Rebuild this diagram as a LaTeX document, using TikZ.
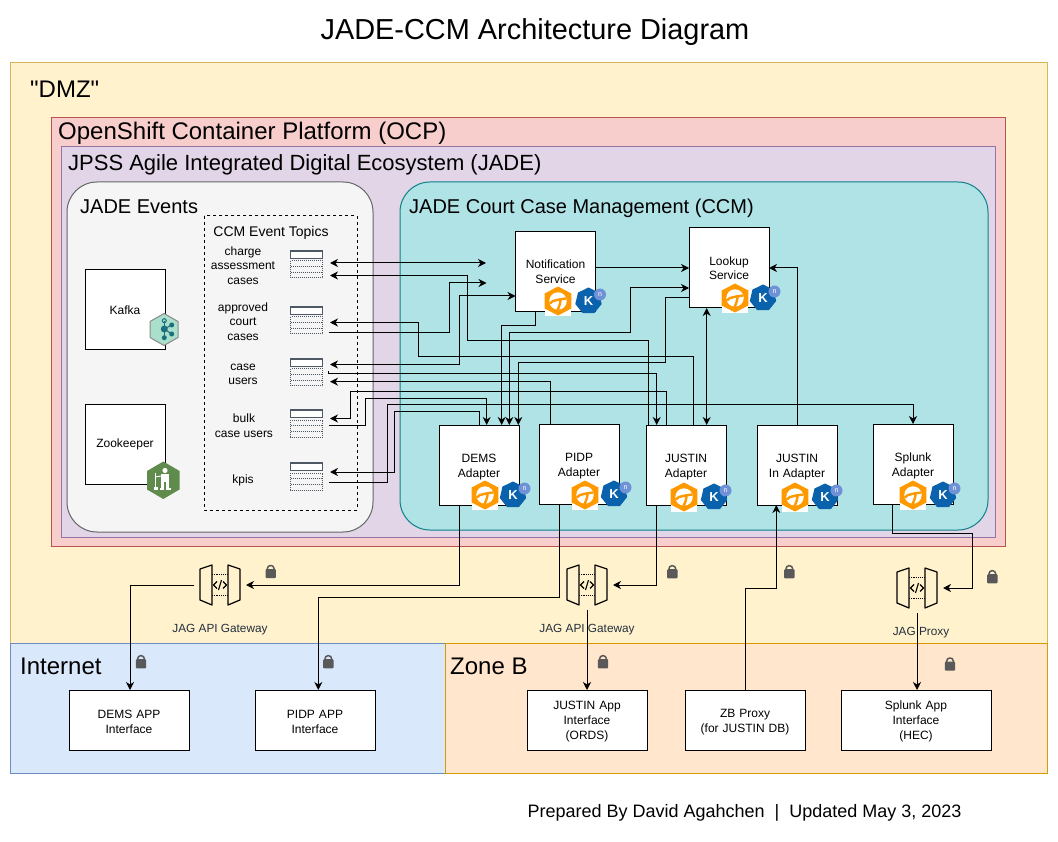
\documentclass[tikz,border=0pt]{standalone}
\usepackage{fontspec}
\setmainfont{Liberation Sans}
\newfontfamily\plainfont{Liberation Sans}
\usetikzlibrary{arrows.meta,shapes.geometric}
\definecolor{dmzfill}{HTML}{FFF2CC}
\definecolor{dmzline}{HTML}{D6B656}
\definecolor{netfill}{HTML}{DAE8FC}
\definecolor{netline}{HTML}{6C8EBF}
\definecolor{zonefill}{HTML}{FFE6CC}
\definecolor{zoneline}{HTML}{D79B00}
\definecolor{ocpfill}{HTML}{F8CECC}
\definecolor{ocpline}{HTML}{B85450}
\definecolor{jadefill}{HTML}{E1D5E7}
\definecolor{jadeline}{HTML}{9673A6}
\definecolor{ccmfill}{HTML}{B0E3E6}
\definecolor{ccmline}{HTML}{0E8088}
\definecolor{eventfill}{HTML}{F5F5F5}
\definecolor{eventline}{HTML}{666666}
\definecolor{awsink}{HTML}{232F3E}
\definecolor{camelorange}{HTML}{FF9900}
\definecolor{knblue}{HTML}{0A62AD}
\definecolor{knbadge}{HTML}{6F92D6}
\definecolor{kafkafill}{HTML}{A9DFCB}
\definecolor{kafkaink}{HTML}{1B6E7C}
\definecolor{zoogreen}{HTML}{5F8B4C}
\definecolor{lockgrey}{HTML}{595959}
\tikzset{
  region/.style={draw,line width=1pt},
  bigfont/.style={font=\fontsize{24}{28}\selectfont},
  grouplabel/.style={anchor=west,inner sep=0pt},
  box/.style={draw=black,fill=white,line width=1pt,inner sep=0pt,outer sep=0pt,align=center,minimum width=80pt,minimum height=80pt,font=\fontsize{12}{14.5}\selectfont},
  adapter/.style={box,text width=80pt,execute at begin node={\rule{0pt}{12pt}}},
  appbox/.style={box,text width=120pt,minimum height=60pt,font=\fontsize{12}{15}\selectfont,execute at begin node={\rule{0pt}{12pt}}},
  topiclabel/.style={inner sep=0pt,align=center,font=\fontsize{12}{14.5}\selectfont},
  gwlabel/.style={inner sep=0pt,text=awsink,font=\fontsize{11.8}{14}\selectfont},
  gwport/.style={inner sep=0pt,outer sep=0pt,minimum width=52pt,minimum height=50pt},
  link/.style={line width=1pt,draw=black},
  knshape/.style={regular polygon,regular polygon sides=7,minimum size=27pt,inner sep=0pt,fill=knblue,text=white,font=\bfseries\fontsize{13}{13}\selectfont},
  knbadgeshape/.style={circle,minimum size=12pt,inner sep=0pt,fill=knbadge,text=white,font=\fontsize{7}{7}\selectfont},
  camelicon/.pic={
    \fill[white] (-13.3,8) rectangle (13.3,14.7);
    \fill[camelorange] (0,-14.5)--(13.3,-7.5)--(13.3,7.5)--(0,14.5)--(-13.3,7.5)--(-13.3,-7.5)--cycle;
    \fill[white] (0,0) circle[radius=8.7pt];
    \draw[camelorange,line width=2.4pt] (-8,2.5) .. controls (-4,-2.5) and (-2,1) .. (1,-1.5) -- (8,-2.5);
    \draw[camelorange,line width=2.4pt] (2.5,-2) .. controls (2.5,2) and (1.5,5) .. (-0.5,9);
  },
  knicon/.pic={
    \node[knshape] (-k) at (0,0) {K};
    \node[knbadgeshape] (-n) at (11.5,-6.5) {n};
  },
  gwicon/.pic={
    \draw[line width=1.2pt,line join=round] (-20,-16)--(-8,-20)--(-8,20)--(-20,15)--cycle;
    \draw[line width=1.2pt,line join=round] (20,-16)--(8,-20)--(8,20)--(20,15)--cycle;
    \draw[line width=1.2pt,densely dotted] (-8,-10.5)--(8,-10.5);
    \draw[line width=1.2pt,densely dotted] (-8,10.7)--(8,10.7);
    \draw[line width=1.1pt] (-3,-3.5)--(-6.5,0)--(-3,3.5);
    \draw[line width=1.1pt] (3,-3.5)--(6.5,0)--(3,3.5);
    \draw[line width=1.1pt] (1.5,-5)--(-1.5,5);
  },
  lockicon/.pic={
    \fill[lockgrey,rounded corners=1pt] (-5.2,-2.5) rectangle (5.2,6.7);
    \draw[lockgrey,line width=1.5pt,rounded corners=3pt] (-3.3,-2)--(-3.3,-6)--(3.3,-6)--(3.3,-2);
  },
  topicicon/.pic={
    \draw[fill=white,draw=awsink!80,line width=1.5pt] (-16,-14) rectangle (16,-6.5);
    \draw[awsink!80,line width=1pt,densely dotted] (-16,-4) rectangle (16,13);
    \draw[awsink!80,line width=1pt,densely dotted] (-16,1.7)--(16,1.7);
    \draw[awsink!80,line width=1pt,densely dotted] (-16,7.4)--(16,7.4);
  },
}
\begin{document}
\begin{tikzpicture}[x=1pt,y=-1pt,>={Stealth[length=8pt,width=8pt,inset=2.5pt]}]
\useasboundingbox (0,0) rectangle (1058,842);
\node[font=\fontsize{28.9}{32}\selectfont,inner sep=0pt] (title) at (535,32.5) {JADE-CCM Architecture Diagram};
\draw[region,draw=dmzline,fill=dmzfill] (10,63) rectangle (1047,643);
\draw[region,draw=netline,fill=netfill] (10,643) rectangle (445,773);
\draw[region,draw=zoneline,fill=zonefill] (445,643) rectangle (1047,773);
\draw[region,draw=ocpline,fill=ocpfill] (51,118) rectangle (1005,546);
\draw[region,draw=jadeline,fill=jadefill] (61,147) rectangle (995,537);
\draw[region,draw=eventline,fill=eventfill,rounded corners=30pt] (67,182) rectangle (373,532);
\draw[region,draw=ccmline,fill=ccmfill,rounded corners=30pt] (400,182) rectangle (988,530);
\draw[line width=1pt,dashed] (204,216) rectangle (357,510);
\node[grouplabel,bigfont] (dmzlabel) at (30,89) {\plainfont"DMZ"};
\node[grouplabel,bigfont] (netlabel) at (20,666) {Internet};
\node[grouplabel,bigfont] (zonelabel) at (450,666) {Zone B};
\node[grouplabel,font=\fontsize{24}{28}\selectfont] (ocplabel) at (58,133) {OpenShift Container Platform (OCP)};
\node[grouplabel,font=\fontsize{22}{26}\selectfont] (jadelabel) at (68,165) {JPSS Agile Integrated Digital Ecosystem (JADE)};
\node[grouplabel,font=\fontsize{20}{24}\selectfont] (eventlabel) at (80,207) {JADE Events};
\node[grouplabel,font=\fontsize{20}{24}\selectfont] (ccmlabel) at (409,208.5) {JADE Court Case Management (CCM)};
\node[inner sep=0pt,font=\fontsize{14}{16}\selectfont] (topicslabel) at (271,233) {CCM Event Topics};
\node[box] (kafka) at (125,310) {Kafka};
\node[box] (zookeeper) at (125,444.5) {Zookeeper};
\node[topiclabel] (lcharge) at (243,265.5) {charge\\assessment\\cases};
\node[topiclabel] (lapproved) at (243,321.5) {approved\\court\\cases};
\node[topiclabel] (lcase) at (243,374.5) {case\\users};
\node[topiclabel] (lbulk) at (244,425.5) {bulk\\case users};
\node[topiclabel] (lkpis) at (243,480.5) {kpis};
\pic at (306.5,265) {topicicon};
\pic at (306.5,321) {topicicon};
\pic at (306.5,373) {topicicon};
\pic at (306.5,424) {topicicon};
\pic at (306.5,477) {topicicon};
\node[box] (notif) at (555.5,271.5) {Notification\\Service};
\node[box] (lookup) at (729,268) {Lookup\\Service};
\node[adapter] (dems) at (479,465) {DEMS\\Adapter};
\node[adapter] (pidp) at (579,464) {PIDP\\Adapter};
\node[adapter] (justin) at (686,465) {JUSTIN\\Adapter};
\node[adapter] (justinin) at (797,465) {JUSTIN\\In Adapter};
\node[adapter] (splunk) at (913,464) {Splunk\\Adapter};
\node[appbox] (demsapp) at (129,720) {DEMS APP\\Interface};
\node[appbox] (pidpapp) at (315,720) {PIDP APP\\Interface};
\node[appbox] (justinapp) at (587,720) {JUSTIN App\\Interface\\(ORDS)};
\node[appbox] (zbproxy) at (745,720) {ZB Proxy\\(for JUSTIN DB)};
\node[appbox,text width=150pt] (splunkapp) at (916,720) {Splunk App\\Interface\\(HEC)};
\node[gwport] (gwdems) at (220,585) {};
\node[gwport] (gwjustin) at (587,585) {};
\node[gwport] (gwsplunk) at (917,588) {};
\pic at (gwdems) {gwicon};
\pic at (gwjustin) {gwicon};
\pic at (gwsplunk) {gwicon};
\coordinate (chargeA) at (330,263);
\coordinate (chargeB) at (330,275.5);
\coordinate (approvedA) at (330,322.5);
\coordinate (approvedB) at (329,333);
\coordinate (caseA) at (330,364.5);
\coordinate (caseB) at (328,371.5);
\coordinate (caseC) at (330,381.7);
\coordinate (bulkA) at (330,418.5);
\coordinate (bulkB) at (329,425);
\coordinate (kpisA) at (330,472);
\coordinate (kpisB) at (329,482);
\coordinate (freeA) at (486,263);
\coordinate (freeB) at (486.5,283);
\draw[link,<->] (chargeA)--(freeA);
\draw[link,<-] (chargeB) -| (467,341) -| ([xshift=2.5pt]justin.north west);
\draw[link,->] (approvedB) -| (449,283) -- (freeB);
\draw[link,<-] (approvedA) -| (418,356.5) -| ([xshift=47pt]justin.north west);
\draw[link,<->] (caseA) -| (459,296) -- ([yshift=-24.5pt]notif.west);
\draw[link,->] (caseB) |- (656.7,373.5) -- ([xshift=10.7pt]justin.north west);
\draw[link,<-] (caseC) -| ([xshift=11.5pt]pidp.north west);
\draw[link,<-] (bulkA) -| (350,391.7) -| ([xshift=20pt]justin.north west);
\draw[link,->] (bulkB) -| (365.7,398.7) -| ([xshift=47.7pt]dems.north west);
\draw[link,<-] (kpisA) -| (394,411) -| (dems.north);
\draw[link,->] (kpisB) -| (387.7,404) -| (splunk.north);
\draw[link,->] ([xshift=20pt]notif.south west) |- (501.7,325.5) -- ([xshift=62.7pt]dems.north west);
\draw[link,<->] ([xshift=70.3pt]dems.north west) |- (630,332.7) |- ([yshift=-20pt]lookup.west);
\draw[link,->] ([yshift=-29.7pt]lookup.west) -| (665.7,362.7) -| ([xshift=79.3pt]dems.north west);
\draw[link,->] ([yshift=3.5pt]notif.east)--(lookup.west);
\draw[link,<->] ([xshift=17.7pt]lookup.south west)--([xshift=60.7pt]justin.north west);
\draw[link,->] (justinin.north) |- (lookup.east);
\draw[link,->] ([xshift=20pt]dems.south west) |- (gwdems.east);
\draw[link,->] (gwdems.west) -| ([xshift=1pt]demsapp.north);
\draw[link,->] ([xshift=20.3pt]pidp.south west) |- (318.3,597.3) -- ([xshift=3.3pt]pidpapp.north);
\draw[link,->] ([xshift=10pt]justin.south west) |- (gwjustin.east);
\draw[link,->] (gwjustin.south)--(justinapp.north);
\draw[link,->] (zbproxy.north) |- (776.3,588.7) -- ([xshift=19.3pt]justinin.south west);
\draw[link,->] ([xshift=19.7pt]splunk.south west) |- (972.3,533.3) |- (gwsplunk.east);
\draw[link,->] (gwsplunk.south)--(gwsplunk.south |- splunkapp.north);
\node[gwlabel] (gwdemslabel) at (220,630) {JAG API Gateway};
\node[gwlabel] (gwjustinlabel) at (587,630) {JAG API Gateway};
\node[gwlabel] (gwsplunklabel) at (921,633) {JAG Proxy};
\pic at (270.7,571.5) {lockicon};
\pic at (672.3,571.7) {lockicon};
\pic at (789.3,571.7) {lockicon};
\pic at (992.3,576.7) {lockicon};
\pic at (141,661.7) {lockicon};
\pic at (328.3,661.7) {lockicon};
\pic at (603,661.7) {lockicon};
\pic at (950,664) {lockicon};
\pic at (558,301) {camelicon};
\pic (knnotif) at (588.5,301) {knicon};
\pic at (735,298) {camelicon};
\pic (knlookup) at (763,298) {knicon};
\pic at (485,495) {camelicon};
\pic (kndems) at (513,495) {knicon};
\pic at (585,495) {camelicon};
\pic (knpidp) at (614,494) {knicon};
\pic at (684,497) {camelicon};
\pic (knjustin) at (714,497) {knicon};
\pic at (795,497) {camelicon};
\pic (knjustinin) at (825,497) {knicon};
\pic at (913,495) {camelicon};
\pic (knsplunk) at (943,495) {knicon};
\draw[fill=kafkafill,draw=black!45,line width=1pt] (164,313.5)--(178,321.5)--(178,337.5)--(164,345.5)--(150,337.5)--(150,321.5)--cycle;
\draw[kafkaink,line width=1pt] (164.3,320.7)--(164.3,337.7);
\draw[kafkaink,line width=1pt] (171.7,325)--(164.3,329)--(171.7,334);
\draw[kafkaink,line width=1pt] (164.3,320.7) circle[radius=2pt];
\fill[kafkaink] (164.3,329) circle[radius=3.5pt];
\fill[kafkaink] (171.7,325) circle[radius=2.5pt];
\fill[kafkaink] (171.7,334) circle[radius=2.5pt];
\fill[kafkaink] (164.3,337.7) circle[radius=2.5pt];
\fill[zoogreen] (163.3,461.5)--(179.5,471)--(179.5,489.5)--(163.3,499)--(147,489.5)--(147,471)--cycle;
\fill[white] (165,470.5) circle[radius=2.6pt];
\fill[white] (161,474)--(169,474)--(169,482)--(161,482)--cycle;
\fill[white] (161,482) rectangle (164.3,489);
\fill[white] (165.7,482) rectangle (169,489);
\fill[white] (159.5,487.5) rectangle (164.3,490);
\fill[white] (165.7,487.5) rectangle (170.5,490);
\draw[white,line width=1pt] (155.5,473)--(155.5,487);
\draw[white,line width=1pt] (155.5,477)--(161,476);
\fill[white] (154,486.5) rectangle (158,490);
\node[font=\fontsize{18}{20}\selectfont,inner sep=0pt] (footer) at (744.5,813) {Prepared By David Agahchen\ \ |\ \ Updated May 3, 2023};
\end{tikzpicture}
\end{document}
